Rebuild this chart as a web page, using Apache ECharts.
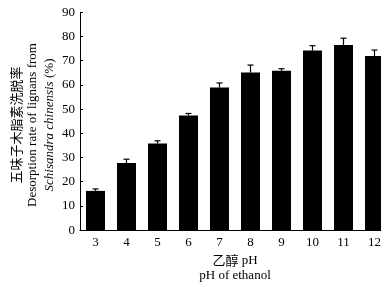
<!DOCTYPE html>
<html><head><meta charset="utf-8">
<script src="https://cdn.jsdelivr.net/npm/echarts@6/dist/echarts.min.js"></script>
<style>html,body{margin:0;padding:0;background:#fff}#c{width:390px;height:287px}</style>
</head><body><div id="c"></div>
<script>
const categories = ['3','4','5','6','7','8','9','10','11','12'];
const values = [16.2, 27.7, 35.8, 47.4, 58.9, 65.1, 65.8, 74.2, 76.5, 71.9];
const errors = [0.8, 1.6, 1.1, 0.8, 1.9, 3.1, 0.9, 2.0, 2.8, 2.5];
const yTicks = [0, 90, 10];

const serif = '"Liberation Serif","DejaVu Serif",serif';
const chart = echarts.init(document.getElementById('c'), null, {renderer:'canvas'});
chart.setOption({
  animation:false,
  backgroundColor:'#fff',
  grid:{left:80, top:12.3, bottom:52.7, right:-1, containLabel:false},
  xAxis:{
    type:'category', data:categories,
    axisLine:{lineStyle:{color:'#000', width:1}},
    axisTick:{show:false},
    axisLabel:{color:'#000', fontFamily:serif, fontSize:13, margin:6},
    name:'{a|乙醇} {b|pH}\n{b|pH of ethanol}',
    nameLocation:'middle', nameGap:22,
    nameTextStyle:{
      rich:{
        a:{fontFamily:'"Noto Sans CJK SC"', fontSize:13, color:'#000', lineHeight:15},
        b:{fontFamily:serif, fontSize:13, color:'#000', lineHeight:15}
      }
    }
  },
  yAxis:{
    type:'value', min:yTicks[0], max:yTicks[1], interval:yTicks[2],
    axisLine:{show:true, lineStyle:{color:'#000', width:1}},
    axisTick:{show:true, inside:true, length:3, lineStyle:{color:'#000'}},
    axisLabel:{color:'#000', fontFamily:serif, fontSize:13, margin:5},
    splitLine:{show:false}
  },
  graphic:[
    {type:'rect', right:0, top:0, shape:{width:9, height:287}, style:{fill:'#fff'}, z:100},
    {type:'text', x:33, y:125, rotation:Math.PI/2,
     style:{
       text:'{a|五味子木脂素洗脱率}\n{b|Desorption rate of lignans from}\n{i|Schisandra chinensis} {b|(%)}',
       align:'center', verticalAlign:'middle',
       rich:{
         a:{fontFamily:'"Noto Sans CJK SC"', fontSize:13, fill:'#000', lineHeight:17, align:'center'},
         b:{fontFamily:serif, fontSize:13, fill:'#000', lineHeight:17, align:'center'},
         i:{fontFamily:serif, fontSize:13, fontStyle:'italic', fill:'#000', lineHeight:17, align:'center'}
       }
     }}
  ],
  series:[
    {type:'bar', data:values, barWidth:19, itemStyle:{color:'#000'}},
    {type:'custom', data:values.map((v,i)=>[i, v, v+errors[i]]),
     renderItem:function(params, api){
       const base = api.coord([api.value(0), api.value(1)]);
       const top = api.coord([api.value(0), api.value(2)]);
       const hw = 3;
       return {type:'group', children:[
         {type:'line', shape:{x1:base[0], y1:base[1], x2:top[0], y2:top[1]}, style:{stroke:'#000', lineWidth:1.2}},
         {type:'line', shape:{x1:top[0]-hw, y1:top[1], x2:top[0]+hw, y2:top[1]}, style:{stroke:'#000', lineWidth:1.2}}
       ]};
     }, z:5}
  ]
});
</script></body></html>
